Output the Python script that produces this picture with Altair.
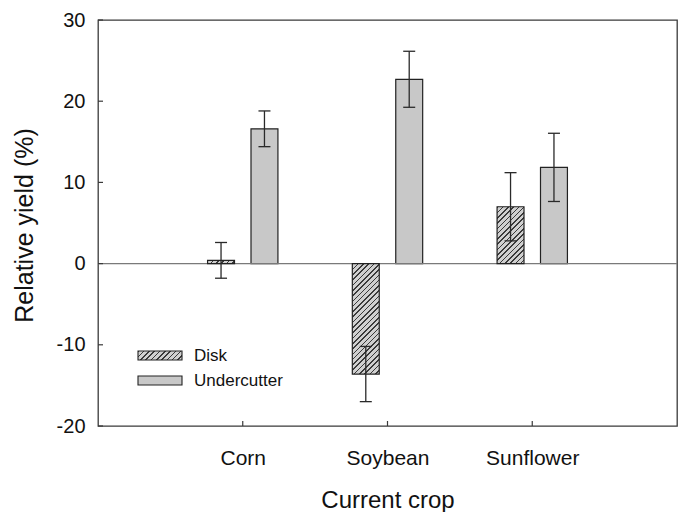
import altair as alt
import pandas as pd

# ---- data ----
crops = ["Corn", "Soybean", "Sunflower"]
series = ["Disk", "Undercutter"]
disk_mean = [0.4, -13.6, 7.0]
disk_err = [2.2, 3.4, 4.2]
under_mean = [16.6, 22.7, 11.85]
under_err = [2.2, 3.45, 4.2]
y_ticks = [-20, -10, 0, 10, 20, 30]

# ---- layout / style constants ----
W, H = 579, 406
X_DOM = [0, 4]
Y_DOM = [-20, 30]
PX_X = W / (X_DOM[1] - X_DOM[0])
PX_Y = H / (Y_DOM[1] - Y_DOM[0])
OFF = 0.15          # group offset (category units)
HALF = 0.093        # half bar width (category units)
FONT = "Liberation Sans"
UNDER_FILL = "#c8c8c8"
HATCH_BG = "#d0d0d0"
HATCH_FG = "#3a3a3a"
EDGE = "#222222"


def hatch(w, h, period=5.3, frac=0.3):
    """Diagonal '/' hatch made of a hard-stop linear gradient in bbox units."""
    h = max(h, 0.5)
    a = w / h
    s = (a + 1) / (a * a + 1)
    span = w + h
    stops = []
    k = 0
    while k * period < span:
        t0 = k * period / span
        t1 = min((k * period + frac * period) / span, 1.0)
        t2 = min((k + 1) * period / span, 1.0)
        stops += [
            alt.GradientStop(offset=t0, color=HATCH_FG),
            alt.GradientStop(offset=t1, color=HATCH_FG),
            alt.GradientStop(offset=t1, color=HATCH_BG),
            alt.GradientStop(offset=t2, color=HATCH_BG),
        ]
        k += 1
    return alt.LinearGradient(gradient="linear", x1=0, y1=0, x2=s * a, y2=s, stops=stops)


rows = []
for i, c in enumerate(crops):
    rows.append({"crop": c, "series": series[0], "mean": disk_mean[i], "err": disk_err[i], "pos": i + 1 - OFF})
    rows.append({"crop": c, "series": series[1], "mean": under_mean[i], "err": under_err[i], "pos": i + 1 + OFF})
df = pd.DataFrame(rows)
df["lo"] = df["pos"] - HALF
df["hi"] = df["pos"] + HALF
df["elo"] = df["mean"] - df["err"]
df["ehi"] = df["mean"] + df["err"]
df["zero"] = 0.0

xscale = alt.Scale(domain=X_DOM, nice=False, zero=False)
yscale = alt.Scale(domain=Y_DOM, nice=False, zero=False)

label_expr = "datum.value == 1 ? '%s' : datum.value == 2 ? '%s' : datum.value == 3 ? '%s' : ''" % tuple(crops)

x_axis = alt.Axis(values=[1, 2, 3], labelExpr=label_expr, title="Current crop", grid=False,
                  domain=False, ticks=False, labelFontSize=21, labelPadding=38,
                  labelBaseline="alphabetic", labelColor="#111", titleFontSize=24,
                  titleFontWeight="normal", titleColor="#111", titleBaseline="alphabetic",
                  titleX=W / 2, titleY=81, titleAlign="center")
y_axis = alt.Axis(values=y_ticks, labelExpr="'' + datum.value", title="Relative yield (%)",
                  grid=False, domain=False,
                  ticks=False, labelFontSize=20, labelPadding=13, labelColor="#111",
                  titleFontSize=25, titleFontWeight="normal", titleColor="#111",
                  titleBaseline="alphabetic", titleX=-66, titleY=205, titleAlign="center",
                  titleAngle=-90)


def X(f):
    return alt.X(f, scale=xscale, axis=x_axis)


def Y(f):
    return alt.Y(f, scale=yscale, axis=y_axis)


base = alt.Chart(df)

zero_line = alt.Chart(pd.DataFrame({"v": [0]})).mark_rule(color="#7a7a7a", strokeWidth=1.2).encode(
    y=Y("v:Q"), x=alt.value(0), x2=alt.value(W))

under_bars = base.transform_filter(alt.datum.series == series[1]).mark_rect(
    fill=UNDER_FILL, stroke=EDGE, strokeWidth=1.2).encode(
    x=X("lo:Q"), x2="hi:Q", y=Y("zero:Q"), y2="mean:Q")

disk_layers = []
for i, c in enumerate(crops):
    hpx = abs(disk_mean[i]) * PX_Y
    wpx = 2 * HALF * PX_X
    disk_layers.append(
        alt.Chart(df[(df.crop == c) & (df.series == series[0])]).mark_rect(
            fill=hatch(wpx, hpx), stroke=EDGE, strokeWidth=1.2).encode(
            x=X("lo:Q"), x2="hi:Q", y=Y("zero:Q"), y2="mean:Q")
    )

err_rule = base.mark_rule(color="#2a2a2a", strokeWidth=1.3).encode(
    x=X("pos:Q"), y=Y("elo:Q"), y2="ehi:Q")
cap_lo = base.mark_tick(orient="horizontal", size=12, thickness=1.3, color="#2a2a2a", opacity=1).encode(
    x=X("pos:Q"), y=Y("elo:Q"))
cap_hi = base.mark_tick(orient="horizontal", size=12, thickness=1.3, color="#2a2a2a", opacity=1).encode(
    x=X("pos:Q"), y=Y("ehi:Q"))

# inward ticks
ytick_marks = alt.Chart(pd.DataFrame({"t": y_ticks})).mark_rule(color="#3a3a3a", strokeWidth=1.2).encode(
    y=Y("t:Q"), x=alt.value(0), x2=alt.value(5))
xtick_marks = alt.Chart(pd.DataFrame({"t": [1, 2, 3]})).mark_rule(color="#3a3a3a", strokeWidth=1.2).encode(
    x=X("t:Q"), y=alt.value(H), y2=alt.value(H - 5))

# legend (drawn inside the plot)
leg_df = pd.DataFrame({"series": series})
leg_disk = alt.Chart(leg_df.iloc[[0]]).mark_rect(fill=hatch(44, 9), stroke=EDGE, strokeWidth=1.1).encode(
    x=alt.value(40), x2=alt.value(84), y=alt.value(331), y2=alt.value(340))
leg_under = alt.Chart(leg_df.iloc[[1]]).mark_rect(fill=UNDER_FILL, stroke=EDGE, strokeWidth=1.1).encode(
    x=alt.value(40), x2=alt.value(84), y=alt.value(356), y2=alt.value(365))
leg_text_disk = alt.Chart(leg_df.iloc[[0]]).mark_text(align="left", baseline="middle", fontSize=17,
                                                      color="#111", font=FONT).encode(
    x=alt.value(96), y=alt.value(336), text="series:N")
leg_text_under = alt.Chart(leg_df.iloc[[1]]).mark_text(align="left", baseline="middle", fontSize=17,
                                                       color="#111", font=FONT).encode(
    x=alt.value(96), y=alt.value(361), text="series:N")

chart = alt.layer(
    under_bars, zero_line, *disk_layers, err_rule, cap_lo, cap_hi,
    ytick_marks, xtick_marks, leg_disk, leg_under, leg_text_disk, leg_text_under,
).properties(
    width=W, height=H, autosize="none",
    padding={"left": 98, "top": 20, "right": 7, "bottom": 86},
).configure(font=FONT, background="white").configure_view(
    stroke="#3a3a3a", strokeWidth=1.3)

chart.save("out.html", embed_options={"renderer": "svg", "actions": False})
